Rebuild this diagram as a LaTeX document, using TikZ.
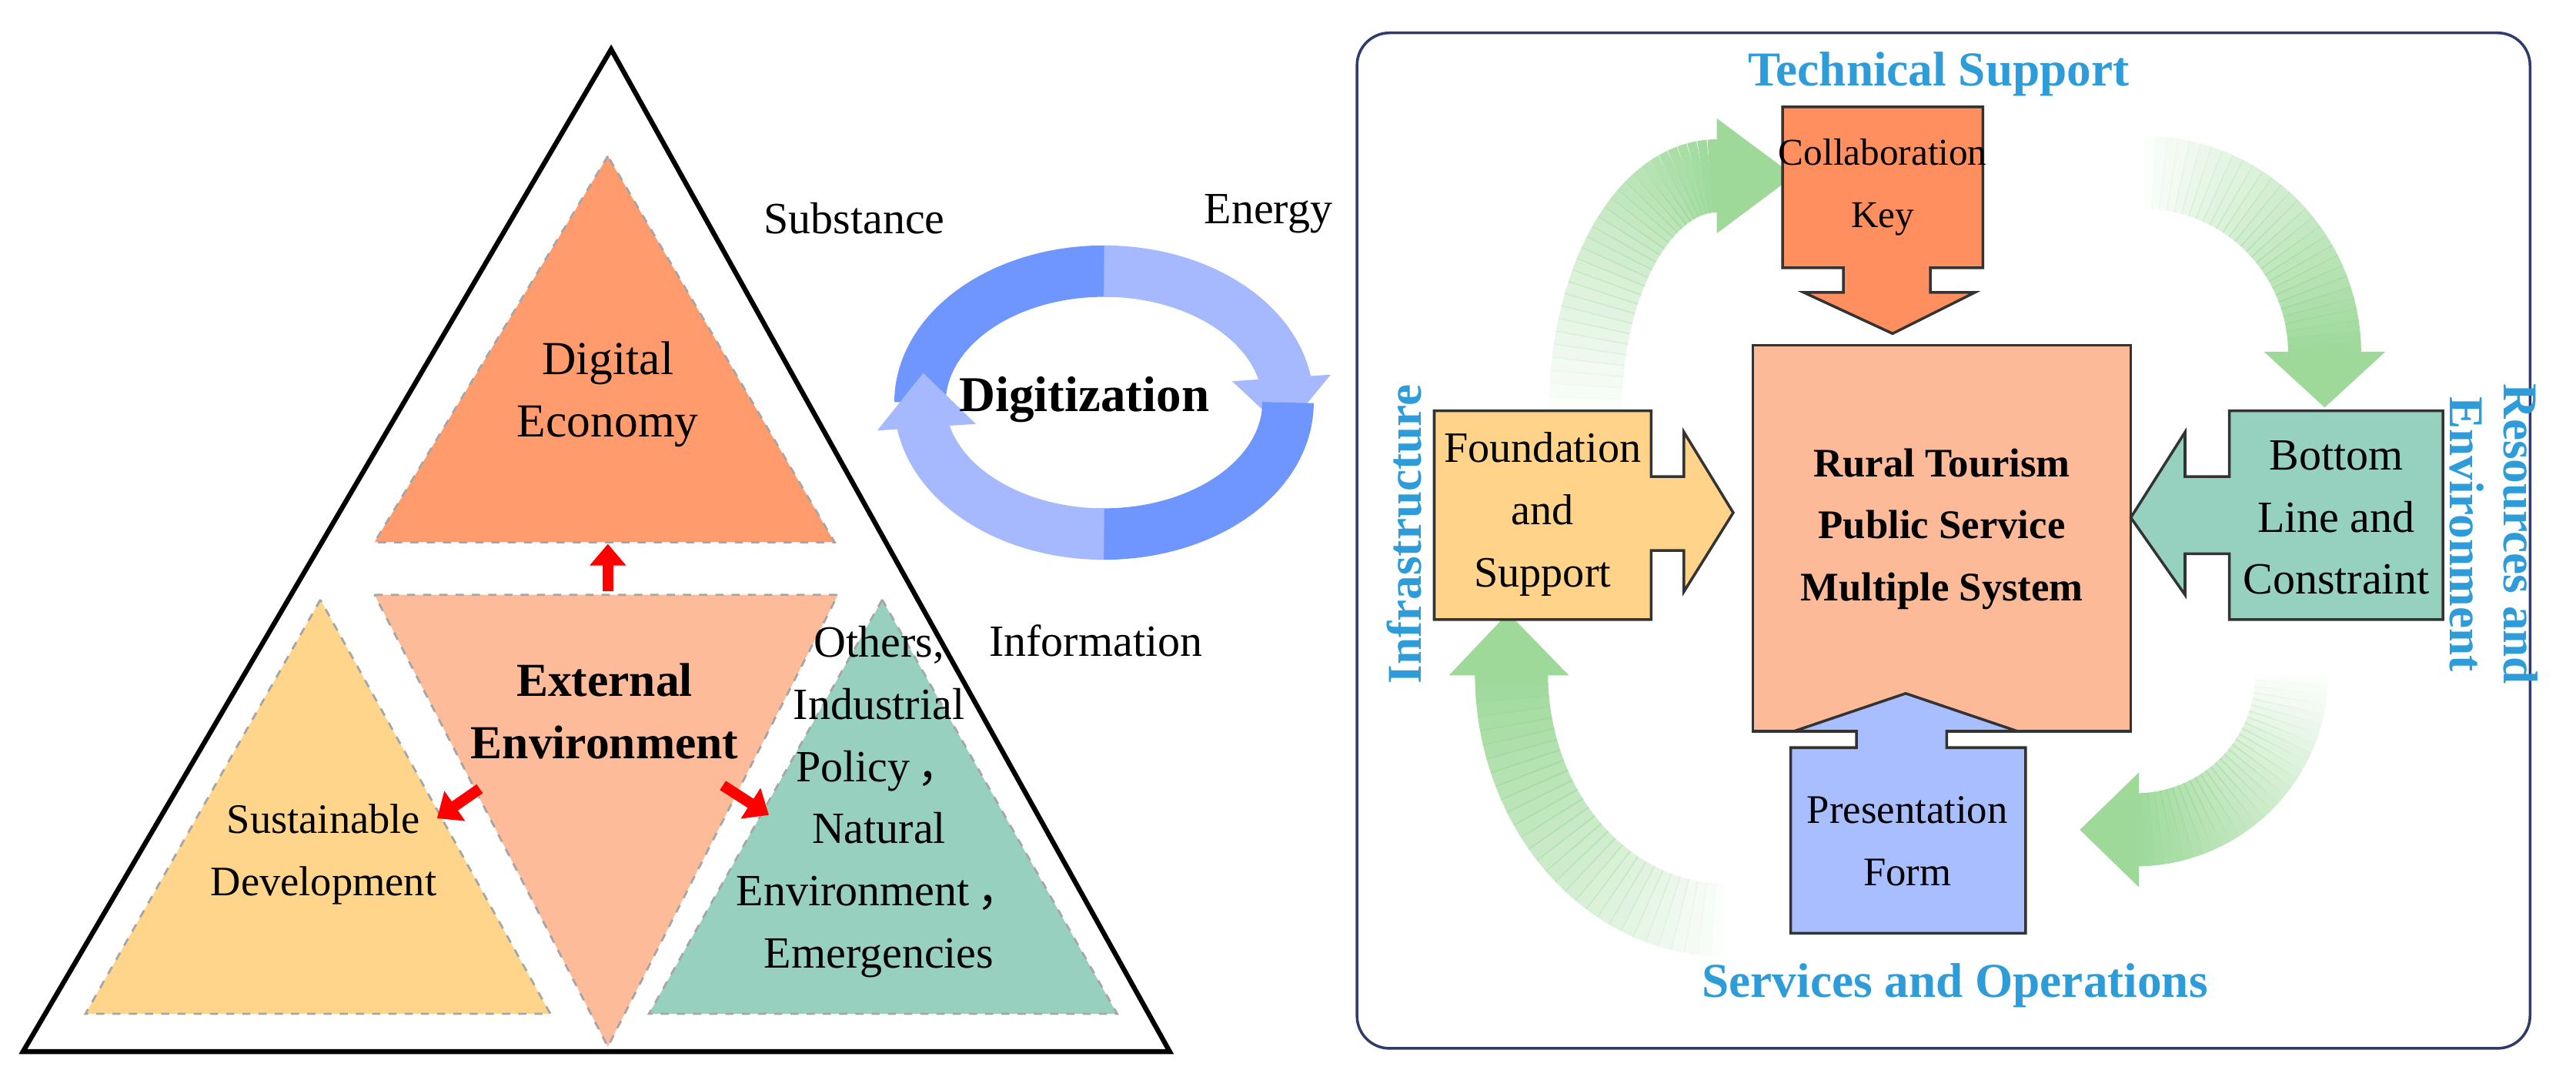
\documentclass[tikz,border=0pt]{standalone}
\usepackage{fontspec}
\setmainfont{Liberation Serif}
\newfontfamily\cjkf{Noto Sans CJK SC}
\usetikzlibrary{arrows.meta}
\definecolor{deC}{HTML}{FF9B6C}
\definecolor{exC}{HTML}{FDBB99}
\definecolor{suC}{HTML}{FFD58C}
\definecolor{otC}{HTML}{98D0BF}
\definecolor{coC}{HTML}{FF8F5E}
\definecolor{ceC}{HTML}{FDBA98}
\definecolor{foC}{HTML}{FFD48A}
\definecolor{boC}{HTML}{96D0BE}
\definecolor{prC}{HTML}{A9BEFF}
\definecolor{blT}{HTML}{2E9CD8}
\definecolor{cyD}{HTML}{6F95FF}
\definecolor{cyL}{HTML}{A6B9FF}
\definecolor{grC}{HTML}{9ED99A}
\definecolor{frC}{HTML}{2F3B6B}
\newcommand{\fs}[1]{\fontsize{#1}{23}\selectfont}
\begin{document}
\begin{tikzpicture}[x=0.02134cm,y=-0.02134cm,
  tri/.style={draw=gray!70,dashed,line width=0.8pt},
  txt/.style={align=center,font=\fs{17}},
  btxt/.style={align=center,font=\fs{17}\bfseries},
  blab/.style={align=center,text=blT,font=\fs{18}\bfseries},
  redarr/.style={red,line width=4pt,-{Triangle[width=13pt,length=8pt]}},
  boxshape/.style={draw=black!80,line width=1pt},
  cyc/.style={line width=19pt,line cap=butt},
  grn/.style={grC,line width=27pt,line cap=butt}]
\useasboundingbox (0,0) rectangle (1568,657);
% left triangle
\draw[line width=1.8pt,line join=miter] (372,30) -- (14,640) -- (712,640) -- cycle;
\filldraw[tri,fill=deC] (370,95) -- (228,330) -- (508,330) -- cycle;
\filldraw[tri,fill=exC] (228,362) -- (510,362) -- (370,637) -- cycle;
\filldraw[tri,fill=suC] (195,365) -- (52,617) -- (335,617) -- cycle;
\filldraw[tri,fill=otC] (537,365) -- (395,617) -- (680,617) -- cycle;
\node[txt,font=\fs{17.5}] (de) at (370,240) {Digital\\Economy};
\node[btxt,font=\fs{17.5}\bfseries] (ex) at (368,433) {External\\Environment};
\node[txt,font=\fs{15.5}] (su) at (197,520) {Sustainable\\Development};
\node[txt,font=\fs{16.5}] (ot) at (535,488) {Others,\\Industrial\\Policy\,{\cjkf ，}\\Natural\\Environment\,{\cjkf ，}\\Emergencies};
\coordinate (u1) at (370,360); \coordinate (u2) at (370,331);
\coordinate (l1) at (292,480); \coordinate (l2) at (266,498);
\coordinate (r1) at (440,478); \coordinate (r2) at (468,496);
\draw[redarr] (u1) -- (u2);
\draw[redarr] (l1) -- (l2);
\draw[redarr] (r1) -- (r2);
% cycle
\draw[cyc,cyD] ([shift={(672,245)}]180:112 and 80) arc[start angle=180,end angle=272,x radius=112,y radius=80];
\draw[cyc,cyL] ([shift={(672,245)}]270:112 and 80) arc[start angle=270,end angle=352,x radius=112,y radius=80];
\fill[cyL] (750,232) -- (810,228) -- (782,262) -- cycle;
\draw[cyc,cyD] ([shift={(672,245)}]0:112 and 80) arc[start angle=0,end angle=92,x radius=112,y radius=80];
\draw[cyc,cyL] ([shift={(672,245)}]90:112 and 80) arc[start angle=90,end angle=172,x radius=112,y radius=80];
\fill[cyL] (534,262) -- (594,258) -- (562,227) -- cycle;
\node[txt,font=\fs{16.5}] (sub) at (520,133) {Substance};
\node[txt,font=\fs{16.5}] (en) at (772,130) {Energy};
\node[txt,font=\fs{16.5}] (inf) at (667,390) {Information};
\node[btxt,font=\fs{18.5}\bfseries] (dig) at (660,243) {Digitization};
% right panel
\draw[frC,line width=1pt,rounded corners=12pt] (826,20) rectangle (1540,638);
\node[blab] (ts) at (1180,45) {Technical Support};
\node[blab] (so) at (1190,600) {Services and Operations};
\node[blab,rotate=90] (in) at (855,325) {Infrastructure};
\node[blab,rotate=-90,font=\fontsize{18}{20}\selectfont\bfseries] (re) at (1518,325) {Resources and\\Environment};
% green arrows
\foreach \i in {0,...,29}{
  \pgfmathsetmacro{\op}{0.04+\i*0.033}
  \pgfmathsetmacro{\a}{180+\i*3}\pgfmathsetmacro{\b}{\a+3.3}
  \draw[grn,opacity=\op] ([shift={(1045,250)}]\a:80 and 143) arc[start angle=\a,end angle=\b,x radius=80,y radius=143];
  \pgfmathsetmacro{\a}{270+\i*3}\pgfmathsetmacro{\b}{\a+3.3}
  \draw[grn,opacity=\op] ([shift={(1305,215)}]\a:110 and 110) arc[start angle=\a,end angle=\b,x radius=110,y radius=110];
  \pgfmathsetmacro{\a}{0+\i*3}\pgfmathsetmacro{\b}{\a+3.3}
  \draw[grn,opacity=\op] ([shift={(1300,410)}]\a:95 and 95) arc[start angle=\a,end angle=\b,x radius=95,y radius=95];
  \pgfmathsetmacro{\a}{90+\i*3}\pgfmathsetmacro{\b}{\a+3.3}
  \draw[grn,opacity=\op] ([shift={(1050,410)}]\a:130 and 150) arc[start angle=\a,end angle=\b,x radius=130,y radius=150];
}
\fill[grC] (1045,72) -- (1092,107) -- (1045,142) -- cycle;
\fill[grC] (1378,214) -- (1415,248) -- (1452,214) -- cycle;
\fill[grC] (1302,470) -- (1266,505) -- (1302,540) -- cycle;
\fill[grC] (882,411) -- (918,373) -- (955,411) -- cycle;
% boxes
\filldraw[boxshape,fill=coC] (1085,65) -- (1207,65) -- (1207,163) -- (1175,163) -- (1175,178) -- (1202,178) -- (1152,203) -- (1098,178) -- (1122,178) -- (1122,163) -- (1085,163) -- cycle;
\node[txt,font=\fs{14}] (co) at (1146,114) {Collaboration\\Key};
\filldraw[boxshape,fill=ceC] (1067,210) rectangle (1297,445);
\node[btxt,font=\fs{15}\bfseries] (ce) at (1182,322) {Rural Tourism\\Public Service\\Multiple System};
\filldraw[boxshape,fill=foC] (873,250) -- (1005,250) -- (1005,290) -- (1025,290) -- (1025,263) -- (1055,312) -- (1025,360) -- (1025,335) -- (1005,335) -- (1005,377) -- (873,377) -- cycle;
\node[txt,font=\fs{16}] (fo) at (939,313) {Foundation\\and\\Support};
\filldraw[boxshape,fill=boC] (1487,250) -- (1357,250) -- (1357,290) -- (1330,290) -- (1330,263) -- (1297,315) -- (1330,362) -- (1330,337) -- (1357,337) -- (1357,377) -- (1487,377) -- cycle;
\node[txt,font=\fs{16.5}] (bo) at (1422,315) {Bottom\\Line and\\Constraint};
\filldraw[boxshape,fill=prC] (1090,568) -- (1090,455) -- (1130,455) -- (1130,445) -- (1092,445) -- (1160,422) -- (1228,445) -- (1185,445) -- (1185,455) -- (1233,455) -- (1233,568) -- cycle;
\node[txt,font=\fs{15}] (pr) at (1161,512) {Presentation\\Form};
\end{tikzpicture}
\end{document}
